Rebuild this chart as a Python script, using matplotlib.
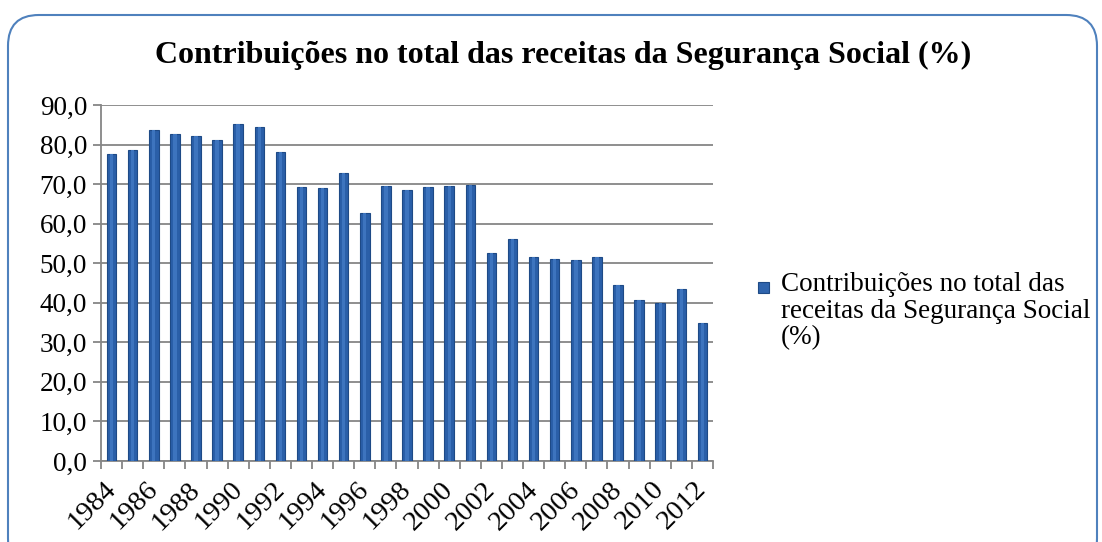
import matplotlib
matplotlib.use("Agg")
import matplotlib.pyplot as plt
from matplotlib.patches import FancyBboxPatch, Rectangle
import numpy as np

years = list(range(1984, 2013))
values = [77.6, 78.6, 83.8, 82.6, 82.1, 81.1, 85.2, 84.4, 78.1, 69.2,
          69.0, 72.8, 62.7, 69.5, 68.5, 69.2, 69.5, 69.7, 52.6, 56.2,
          51.6, 51.0, 50.7, 51.6, 44.6, 40.8, 40.0, 43.5, 35.0]
yticks = [0, 10, 20, 30, 40, 50, 60, 70, 80, 90]
title = "Contribuições no total das receitas da Segurança Social (%)"
legend_label = "Contribuições no total das\nreceitas da Segurança Social\n(%)"

plt.rcParams['font.family'] = ['Liberation Serif', 'DejaVu Serif']

fig = plt.figure(figsize=(11.02, 5.42), dpi=100)
fig.patch.set_facecolor('white')

# rounded frame
frame = FancyBboxPatch((8/1102, -0.05), 1089/1102, (542-15)/542 + 0.05,
                       boxstyle="round,pad=0,rounding_size=0.028",
                       transform=fig.transFigure, facecolor='none',
                       edgecolor='#4F81BD', linewidth=1.5, mutation_aspect=1102/542)
fig.patches.append(frame)

ax = fig.add_axes([101/1102, 1-461/542, (713-101)/1102, (461-105)/542])
x = np.arange(len(years))
ax.bar(x, values, width=0.45, color='#2A5FA8', edgecolor='#1E4A86', linewidth=0.8, zorder=3)
ax.bar(x, values, width=0.16, color='#3D74BE', linewidth=0, zorder=4)
ax.set_xlim(-0.5, len(years)-0.5)
ax.set_ylim(0, 90)
ax.set_yticks(yticks)
ax.set_yticklabels([f"{v:.1f}".replace('.', ',') for v in yticks], fontsize=19.5)
ax.yaxis.grid(True, color='#868686', linewidth=1.3, zorder=0)
ax.set_axisbelow(True)
for s in ['top', 'right']:
    ax.spines[s].set_visible(False)
for s in ['left', 'bottom']:
    ax.spines[s].set_color('#868686')
    ax.spines[s].set_linewidth(1.3)
ax.tick_params(axis='y', length=6, color='#868686', width=1.3, pad=4)

# x ticks at category boundaries
ax.set_xticks(np.arange(-0.5, len(years)), minor=False)
ax.set_xticklabels([])
ax.tick_params(axis='x', length=6, color='#868686', width=1.3)
for i, yr in enumerate(years):
    if i % 2 == 0:
        ax.text(i - 0.4, -4.0, str(yr), rotation=45, ha='right', va='top',
                fontsize=20.5, rotation_mode='anchor')

fig.text(0.511, 1-55/542, title, ha='center', va='center', fontsize=23, fontweight='bold')

# legend
fig.patches.append(Rectangle((758/1102, 1-293/542), 11/1102, 11/542, transform=fig.transFigure,
                             facecolor='#2F64AD', edgecolor='#1E4A86', linewidth=0.8))
fig.text(781/1102, 1-272/542, legend_label, ha='left', va='top', fontsize=19.5, linespacing=1.08)

fig.savefig('out.png', dpi=100)
